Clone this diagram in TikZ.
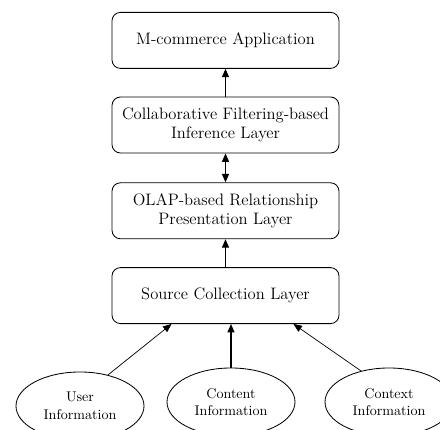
\documentclass[tikz,border=0pt]{standalone}
\usetikzlibrary{shapes.geometric}
\usetikzlibrary{arrows.meta}
\tikzset{
  lay/.style={draw,line width=0.6pt,rounded corners=6pt,minimum width=5.675cm,minimum height=1.4cm,align=center,font=\fontsize{11.8}{13.5}\selectfont},
  src/.style={ellipse,draw,line width=0.6pt,minimum width=3.2cm,minimum height=1.7cm,inner sep=0pt,align=center,font=\fontsize{10}{12.5}\selectfont},
  up/.style={line width=0.8pt,-{Triangle[width=5pt,length=6pt]}}
}
\begin{document}
\begin{tikzpicture}
    \useasboundingbox (0,0) rectangle (11,10.75);
    \node[lay] (app) at (5.6375,9.74) {M-commerce Application};
    \node[lay] (cf) at (5.6375,7.625) {Collaborative Filtering-based\\Inference Layer};
    \node[lay] (olap) at (5.6375,5.48) {OLAP-based Relationship\\Presentation Layer};
    \node[lay] (scl) at (5.6375,3.36) {Source Collection Layer};
    \node[src] (user) at (2.0,0.6) {User\\Information};
    \node[src] (cont) at (5.775,0.7) {Content\\Information};
    \node[src] (ctx) at (9.725,0.7) {Context\\Information};
    \draw[up] (cf) -- (app);
    \draw[up,{Triangle[width=5pt,length=6pt]}-{Triangle[width=5pt,length=6pt]}] (olap) -- (cf);
    \draw[up] (scl) -- (olap);
    \draw[line width=0.5pt,-{Triangle[width=5pt,length=6pt]}] (user.48) -- ([xshift=-1.35cm]scl.south);
    \draw[up] (cont.north) -- (cont.north |- scl.south);
    \draw[line width=0.5pt,-{Triangle[width=5pt,length=6pt]}] (ctx.132) -- ([xshift=1.7cm]scl.south);
  \end{tikzpicture}
\end{document}
